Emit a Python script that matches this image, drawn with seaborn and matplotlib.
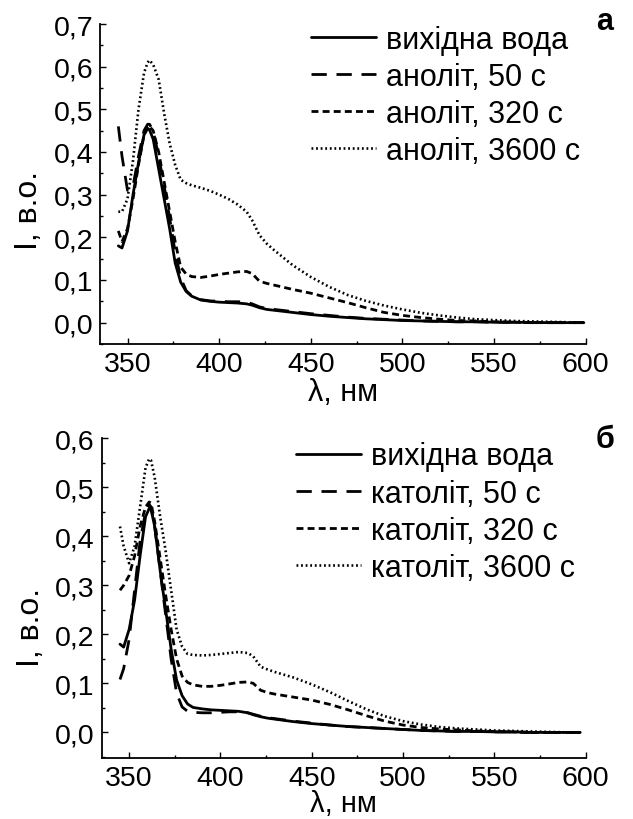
import matplotlib
matplotlib.use("Agg")
import matplotlib.pyplot as plt
import seaborn as sns
import pandas as pd
from matplotlib.ticker import MultipleLocator, FixedLocator, FixedFormatter

# ---------------- data ----------------
wl_top = [345, 347, 350, 353, 356, 359, 361, 362, 364, 367, 370, 373, 376, 379, 382, 385,
          390, 395, 400, 405, 410, 415, 418, 422, 426, 430, 440, 450, 460, 470, 480, 490,
          500, 510, 520, 530, 540, 550, 560, 570, 580, 590, 599]
top_water = [0.18, 0.175, 0.215, 0.30, 0.375, 0.44, 0.455, 0.452, 0.43, 0.36, 0.29, 0.22, 0.14, 0.095, 0.073, 0.062,
             0.053, 0.05, 0.048, 0.047, 0.046, 0.044, 0.041, 0.035, 0.031, 0.029, 0.024, 0.019, 0.015, 0.012, 0.009, 0.007,
             0.005, 0.004, 0.003, 0.002, 0.002, 0.001, 0.001, 0.0005, 0.0, 0.0, 0.0]
top_50 = [0.46, 0.39, 0.31, 0.32, 0.39, 0.45, 0.465, 0.465, 0.45, 0.39, 0.32, 0.245, 0.165, 0.105, 0.075, 0.063,
          0.054, 0.051, 0.05, 0.049, 0.049, 0.048, 0.044, 0.037, 0.033, 0.031, 0.026, 0.021, 0.017, 0.013, 0.01, 0.008,
          0.006, 0.004, 0.003, 0.002, 0.002, 0.001, 0.001, 0.0, 0.0, 0.0, 0.0]
top_320 = [0.215, 0.19, 0.22, 0.29, 0.37, 0.44, 0.46, 0.46, 0.45, 0.40, 0.33, 0.26, 0.19, 0.13, 0.114, 0.108,
           0.106, 0.109, 0.113, 0.116, 0.119, 0.12, 0.115, 0.097, 0.092, 0.088, 0.078, 0.069, 0.058, 0.047, 0.035, 0.024,
           0.017, 0.012, 0.008, 0.005, 0.004, 0.002, 0.001, 0.0, 0.0, 0.0, 0.0]
top_3600 = [0.26, 0.26, 0.29, 0.38, 0.50, 0.585, 0.61, 0.615, 0.605, 0.57, 0.49, 0.42, 0.37, 0.335, 0.327, 0.322,
            0.316, 0.309, 0.30, 0.29, 0.277, 0.26, 0.24, 0.205, 0.185, 0.17, 0.135, 0.107, 0.084, 0.065, 0.051, 0.04,
            0.031, 0.023, 0.017, 0.012, 0.008, 0.006, 0.004, 0.003, 0.002, 0.001, 0.0]

wl_bot = [345, 347, 350, 353, 356, 359, 361, 362, 364, 367, 370, 373, 376, 379, 382, 385,
          390, 395, 400, 405, 410, 415, 418, 422, 426, 430, 440, 450, 460, 470, 480, 490,
          500, 510, 520, 530, 540, 550, 560, 570, 580, 590, 597]
bot_water = [0.18, 0.174, 0.21, 0.27, 0.36, 0.44, 0.457, 0.455, 0.42, 0.33, 0.25, 0.17, 0.107, 0.075, 0.058, 0.051,
             0.048, 0.046, 0.045, 0.044, 0.043, 0.04, 0.036, 0.032, 0.029, 0.027, 0.022, 0.018, 0.015, 0.012, 0.01, 0.008,
             0.006, 0.004, 0.003, 0.002, 0.002, 0.001, 0.001, 0.0, 0.0, 0.0, 0.0]
bot_50 = [0.108, 0.13, 0.19, 0.29, 0.39, 0.45, 0.465, 0.46, 0.42, 0.33, 0.24, 0.15, 0.08, 0.052, 0.043, 0.041,
          0.04, 0.04, 0.041, 0.042, 0.042, 0.04, 0.037, 0.033, 0.03, 0.028, 0.023, 0.019, 0.015, 0.012, 0.01, 0.008,
          0.006, 0.004, 0.003, 0.002, 0.002, 0.001, 0.001, 0.0, 0.0, 0.0, 0.0]
bot_320 = [0.29, 0.30, 0.32, 0.36, 0.42, 0.46, 0.47, 0.468, 0.43, 0.355, 0.28, 0.21, 0.15, 0.115, 0.102, 0.097,
           0.094, 0.094, 0.096, 0.099, 0.102, 0.103, 0.10, 0.086, 0.081, 0.078, 0.072, 0.066, 0.057, 0.046, 0.034, 0.023,
           0.015, 0.01, 0.007, 0.005, 0.003, 0.002, 0.001, 0.0, 0.0, 0.0, 0.0]
bot_3600 = [0.42, 0.38, 0.345, 0.38, 0.46, 0.54, 0.558, 0.555, 0.52, 0.44, 0.37, 0.29, 0.21, 0.175, 0.16, 0.158,
            0.157, 0.158, 0.16, 0.162, 0.164, 0.162, 0.155, 0.134, 0.128, 0.123, 0.112, 0.098, 0.082, 0.064, 0.047, 0.033,
            0.023, 0.016, 0.011, 0.008, 0.006, 0.004, 0.003, 0.002, 0.001, 0.0, 0.0]

labels_top = ["вихідна вода", "аноліт, 50 с", "аноліт, 320 с", "аноліт, 3600 с"]
labels_bot = ["вихідна вода", "католіт, 50 с", "католіт, 320 с", "католіт, 3600 с"]
panel_letters = ["а", "б"]

x_ticks = [350, 400, 450, 500, 550, 600]
x_ticklabels = ["350", "400", "450", "500", "550", "600"]
y_ticks_top = [0.0, 0.1, 0.2, 0.3, 0.4, 0.5, 0.6, 0.7]
y_ticklabels_top = ["0,0", "0,1", "0,2", "0,3", "0,4", "0,5", "0,6", "0,7"]
y_ticks_bot = [0.0, 0.1, 0.2, 0.3, 0.4, 0.5, 0.6]
y_ticklabels_bot = ["0,0", "0,1", "0,2", "0,3", "0,4", "0,5", "0,6"]
xlabel = "λ, нм"
ylabel = "I, в.о."

# ---------------- style ----------------
sns.set_style("ticks")
plt.rcParams["font.family"] = ["Liberation Sans", "DejaVu Sans"]
plt.rcParams["lines.scale_dashes"] = False
for k in ["text.color", "axes.labelcolor", "xtick.color", "ytick.color", "axes.edgecolor"]:
    plt.rcParams[k] = "black"

styles = [
    "-",
    (0, (11, 7)),
    (0, (5, 3)),
    (0, (1.3, 2.0)),
]
lws = [2.0, 2.0, 2.0, 1.9]

fig = plt.figure(figsize=(6.33, 8.20), dpi=100)
ax1 = fig.add_axes([0.158, 0.5793, 0.9253 - 0.158, 0.9695 - 0.5793])
ax2 = fig.add_axes([0.1607, 0.0745, 0.9253 - 0.1607, 0.4643 - 0.0745])


def draw(ax, wl, series, labels, yticks, yticklabels, ylim, leg_xy, letter, letter_xy,
         ylab_y, xlab_size, xlab_pad):
    handles = []
    for vals, lab, ls, lw in zip(series, labels, styles, lws):
        df = pd.DataFrame({"wl": wl, "I": vals})
        sns.lineplot(data=df, x="wl", y="I", ax=ax, color="black", linewidth=lw,
                     linestyle=ls, label=lab, legend=False)
        handles.append(ax.lines[-1])
    ax.set_xlim(335, 600)
    ax.set_ylim(*ylim)
    ax.xaxis.set_major_locator(FixedLocator(x_ticks))
    ax.xaxis.set_major_formatter(FixedFormatter(x_ticklabels))
    ax.xaxis.set_minor_locator(MultipleLocator(25))
    ax.yaxis.set_major_locator(FixedLocator(yticks))
    ax.yaxis.set_major_formatter(FixedFormatter(yticklabels))
    ax.yaxis.set_minor_locator(MultipleLocator(0.05))
    ax.tick_params(which="major", direction="in", length=4.5, width=1.0,
                   labelsize=20.5, pad=5, colors="black")
    ax.tick_params(which="minor", direction="in", length=2.5, width=1.0)
    for s in ["top", "right"]:
        ax.spines[s].set_visible(False)
    for s in ["left", "bottom"]:
        ax.spines[s].set_linewidth(1.3)
    ax.set_xlabel(xlabel, fontsize=xlab_size, labelpad=xlab_pad)
    ax.set_ylabel(ylabel, fontsize=23)
    ax.yaxis.set_label_coords(-0.115, ylab_y)
    ax.legend(handles, labels, loc="upper left", bbox_to_anchor=leg_xy,
              bbox_transform=fig.transFigure, frameon=False, borderpad=0,
              borderaxespad=0, handlelength=2.12, handletextpad=0.33,
              labelspacing=0.23, fontsize=22)
    fig.text(letter_xy[0], letter_xy[1], letter, fontsize=22, fontweight="bold",
             ha="center", va="center")


draw(ax1, wl_top, [top_water, top_50, top_320, top_3600], labels_top,
     y_ticks_top, y_ticklabels_top, (-0.05, 0.7),
     (311 / 633, 1 - 26 / 820), panel_letters[0], (605 / 633, 1 - 22 / 820), 0.42, 22, 0)
draw(ax2, wl_bot, [bot_water, bot_50, bot_320, bot_3600], labels_bot,
     y_ticks_bot, y_ticklabels_bot, (-0.052, 0.6),
     (296 / 633, 1 - 442.5 / 820), panel_letters[1], (605 / 633, 1 - 440 / 820), 0.41, 21, -1)

fig.savefig("out.png", dpi=100)
